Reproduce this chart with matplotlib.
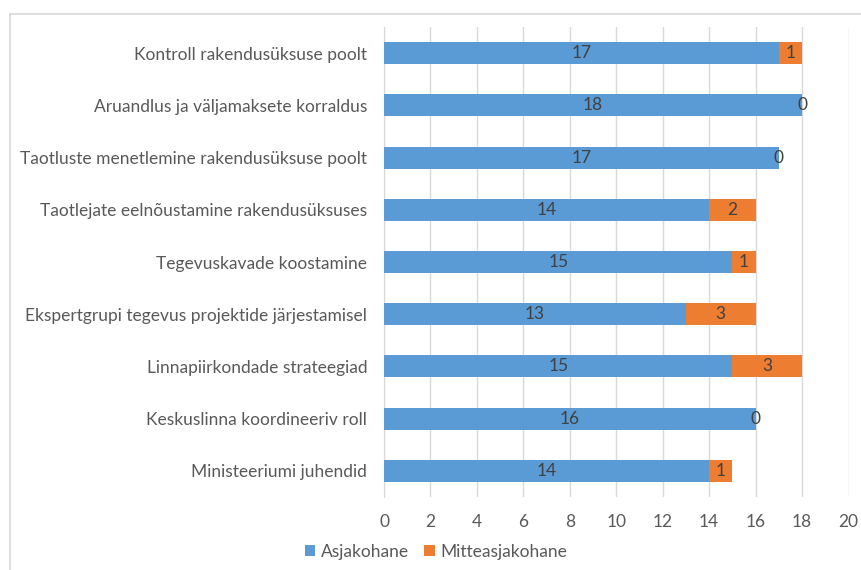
import matplotlib
matplotlib.use("Agg")
import matplotlib.pyplot as plt
import numpy as np

categories = [
    "Kontroll rakendusüksuse poolt",
    "Aruandlus ja väljamaksete korraldus",
    "Taotluste menetlemine rakendusüksuse poolt",
    "Taotlejate eelnõustamine rakendusüksuses",
    "Tegevuskavade koostamine",
    "Ekspertgrupi tegevus projektide järjestamisel",
    "Linnapiirkondade strateegiad",
    "Keskuslinna koordineeriv roll",
    "Ministeeriumi juhendid",
]
asjakohane = [17, 18, 17, 14, 15, 13, 15, 16, 14]
mitteasjakohane = [1, 0, 0, 2, 1, 3, 3, 0, 1]
series_names = ["Asjakohane", "Mitteasjakohane"]
x_ticks = list(range(0, 21, 2))

plt.rcParams["font.family"] = ["Lato", "DejaVu Sans"]
blue, orange = "#5B9BD5", "#ED7D31"
txt = "#595959"
fs = 12.5

fig = plt.figure(figsize=(8.61, 5.70), dpi=100)
ax = fig.add_axes([384 / 861, 73 / 570, (848.5 - 384) / 861, 470 / 570])

# frame around the chart area (cropped on right / bottom in reference)
fig.add_artist(plt.Line2D([10 / 861, 10 / 861], [0, 1 - 14 / 570], color="#D9D9D9", lw=1.2))
fig.add_artist(plt.Line2D([10 / 861, 1], [1 - 14 / 570, 1 - 14 / 570], color="#D9D9D9", lw=1.2))

y = np.arange(len(categories))[::-1]
h = 0.42
b1 = ax.barh(y, asjakohane, height=h, color=blue, label=series_names[0], zorder=3)
b2 = ax.barh(y, mitteasjakohane, left=asjakohane, height=h, color=orange,
             label=series_names[1], zorder=3)

for vals, lefts in [(asjakohane, [0] * len(asjakohane)), (mitteasjakohane, asjakohane)]:
    for yi, v, l in zip(y, vals, lefts):
        ax.text(l + v / 2, yi, str(v), ha="center", va="center",
                fontsize=fs, color="#404040", zorder=4)

ax.set_xlim(0, 20)
ax.set_ylim(-0.5, len(categories) - 0.5)
ax.set_xticks(x_ticks)
ax.set_yticks(y)
ax.set_yticklabels(categories)
ax.xaxis.grid(True, color="#D9D9D9", lw=1, zorder=0)
for s in ["top", "right", "bottom"]:
    ax.spines[s].set_visible(False)
ax.spines["left"].set_color("#D9D9D9")
ax.tick_params(axis="both", length=0, labelsize=fs, labelcolor=txt)
ax.tick_params(axis="y", pad=12)
ax.tick_params(axis="x", pad=12)

fig.legend(handles=[b1, b2], loc="center", bbox_to_anchor=(436 / 861, 1 - 552 / 570),
           ncol=2, frameon=False, fontsize=fs, labelcolor=txt,
           handlelength=0.6, handleheight=0.6, handletextpad=0.3, columnspacing=0.9)

fig.savefig("out.png", dpi=100)
